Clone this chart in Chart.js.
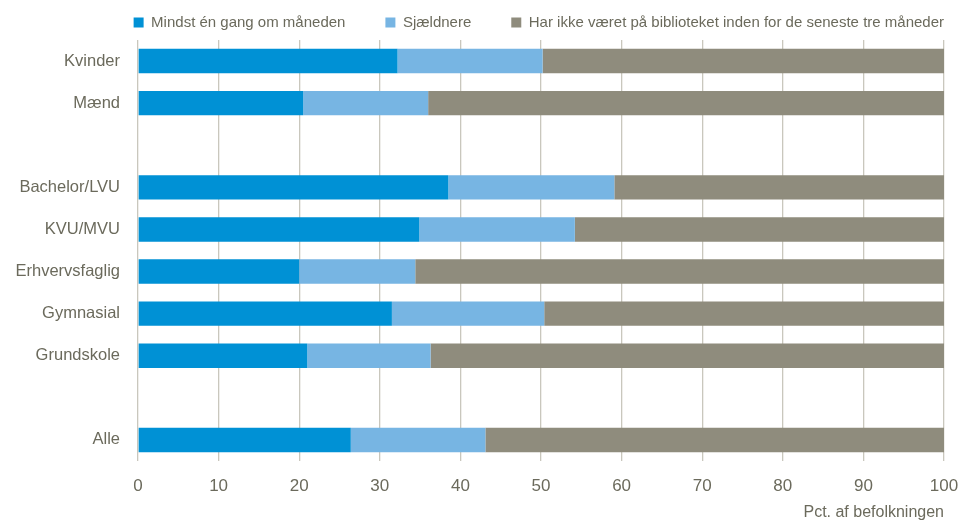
<!DOCTYPE html>
<html>
<head>
<meta charset="utf-8">
<script src="https://cdn.jsdelivr.net/npm/chart.js@4"></script>
<style>
  html, body { margin: 0; padding: 0; background: #fff; }
  #wrap { width: 968px; height: 522px; }
</style>
</head>
<body>
<div id="wrap"><canvas id="chart" width="968" height="522"></canvas></div>
<script>
    // ===== DATA =====
    const categories = ["Kvinder", "Mænd", "", "Bachelor/LVU", "KVU/MVU", "Erhvervsfaglig", "Gymnasial", "Grundskole", "", "Alle"];
    const monthly = [32.2, 20.5, null, 38.5, 34.9, 20.0, 31.5, 21.0, null, 26.4];
    const rarely = [18.0, 15.5, null, 20.6, 19.3, 14.4, 18.9, 15.3, null, 16.7];
    const never = [49.8, 64.0, null, 40.9, 45.8, 65.6, 49.6, 63.7, null, 56.9];
    const seriesNames = ["Mindst én gang om måneden", "Sjældnere", "Har ikke været på biblioteket inden for de seneste tre måneder"];
    const xTicks = [0, 10, 20, 30, 40, 50, 60, 70, 80, 90, 100];
    const xTitle = "Pct. af befolkningen";

    const fontFam = "'Liberation Sans', Arial, sans-serif";
    const textCol = "#6b6a5c";

    new Chart(document.getElementById("chart"), {
        type: "bar",
        data: {
            labels: categories,
            datasets: [
                { label: seriesNames[0], data: monthly, backgroundColor: "#0091d5" },
                { label: seriesNames[1], data: rarely, backgroundColor: "#77b5e3" },
                { label: seriesNames[2], data: never, backgroundColor: "#8f8c7d" }
            ]
        },
        options: {
            indexAxis: "y",
            responsive: false,
            animation: false,
            layout: { padding: { left: 0, right: 14, top: 5, bottom: 0 } },
            datasets: { bar: { categoryPercentage: 1, barPercentage: 0.58 } },
            plugins: {
                legend: {
                    position: "top",
                    align: "end",
                    labels: {
                        boxWidth: 10, boxHeight: 10, padding: 10,
                        color: textCol,
                        font: { family: fontFam, size: 15 },
                        // widen the gap between legend entries without extra vertical padding
                        generateLabels: chart => {
                            const items = Chart.defaults.plugins.legend.labels.generateLabels(chart);
                            items.forEach((it, i) => {
                                if (i < items.length - 1) it.text += "\u2003\u2003";
                            });
                            return items;
                        }
                    }
                },
                tooltip: { enabled: false }
            },
            scales: {
                x: {
                    stacked: true,
                    min: 0, max: 100,
                    afterBuildTicks: s => { s.ticks = xTicks.map(v => ({ value: v })); },
                    grid: { color: "#c9c7bd", lineWidth: 1.3, drawTicks: false },
                    border: { display: false },
                    ticks: { color: textCol, padding: 15, maxRotation: 0, font: { family: fontFam, size: 17 } },
                    title: {
                        display: true, text: xTitle, align: "end",
                        color: textCol, padding: { top: 2, bottom: 0 },
                        font: { family: fontFam, size: 16 }
                    },
                    afterFit: s => { s.height = 61; s.paddingRight = 24; }
                },
                y: {
                    stacked: true,
                    grid: { display: false },
                    border: { display: false },
                    ticks: { color: textCol, padding: 10, autoSkip: false, font: { family: fontFam, size: 16.5 } },
                    afterFit: s => { s.width = 138; }
                }
            }
        }
    });
</script>
</body>
</html>
